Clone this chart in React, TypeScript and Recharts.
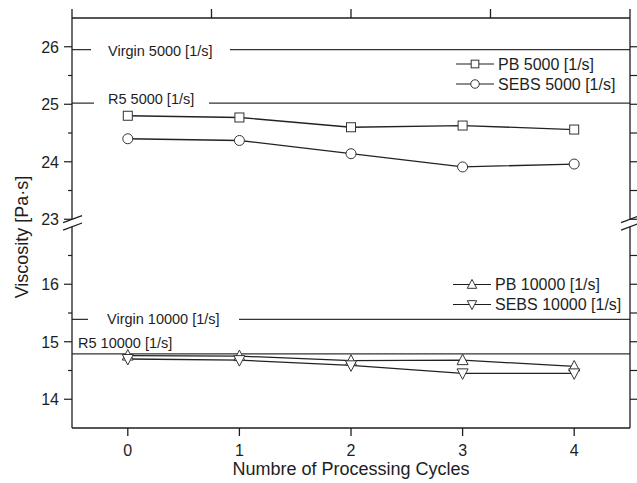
import React from 'react';
import { LineChart, Line, XAxis, YAxis, ReferenceLine, Legend } from 'recharts';

// processing cycles and measured viscosities [Pa·s]
const cycles = [0, 1, 2, 3, 4];
const pb5000 = [24.8, 24.77, 24.6, 24.63, 24.56];
const sebs5000 = [24.4, 24.37, 24.14, 23.91, 23.96];
const pb10000 = [14.76, 14.75, 14.67, 14.68, 14.57];
const sebs10000 = [14.7, 14.68, 14.59, 14.45, 14.45];

// reference levels
const virgin5000 = 25.95;
const r5At5000 = 25.02;
const virgin10000 = 15.39;
const r5At10000 = 14.79;

const yTicksLower = [14, 14.5, 15, 15.5, 16, 16.5];
const yTicksUpper = [23, 23.5, 24, 24.5, 25, 25.5, 26];

// broken y axis: 13.5..17 below the break, 23..26.5 above it
const LOW_END = 17;
const HIGH_START = 23;
const GAP = 0.13;
const SHIFT = HIGH_START - LOW_END - GAP;
const fwd = (v: number) => (v >= 20 ? v - SHIFT : v);
const inv = (t: number) => (t > LOW_END + GAP / 2 ? t + SHIFT : t);
const Y_DOMAIN: [number, number] = [13.5, fwd(26.5)];
const X_DOMAIN: [number, number] = [-0.5, 4.5];

const FONT = '"Liberation Sans", Arial, Helvetica, sans-serif';
const INK = '#1e1e1e';

type Shape = 'square' | 'circle' | 'up' | 'down';

const series: { key: string; name: string; values: number[]; shape: Shape }[] = [
  { key: 'pb5000', name: 'PB 5000 [1/s]', values: pb5000, shape: 'square' },
  { key: 'sebs5000', name: 'SEBS 5000 [1/s]', values: sebs5000, shape: 'circle' },
  { key: 'pb10000', name: 'PB 10000 [1/s]', values: pb10000, shape: 'up' },
  { key: 'sebs10000', name: 'SEBS 10000 [1/s]', values: sebs10000, shape: 'down' },
];

const data = cycles.map((c, i) => {
  const row: Record<string, number> = { cycle: c };
  series.forEach((s) => (row[s.key] = s.values[i]));
  return row;
});

function Marker({ cx, cy, shape, s = 1 }: { cx: number; cy: number; shape: Shape; s?: number }) {
  const common = { fill: '#fff', stroke: '#333', strokeWidth: 1 };
  if (shape === 'square') {
    const h = 4.5 * s;
    return <rect x={cx - h} y={cy - h} width={2 * h} height={2 * h} {...common} />;
  }
  if (shape === 'circle') return <circle cx={cx} cy={cy} r={5 * s} {...common} />;
  const w = 5.5 * s;
  const d = shape === 'up' ? 1 : -1;
  const pts = `${cx},${cy - 6 * s * d} ${cx - w},${cy + 4.5 * s * d} ${cx + w},${cy + 4.5 * s * d}`;
  return <polygon points={pts} {...common} />;
}

function LeftTick({ x, y, payload }: any) {
  const v = Math.round(inv(payload.value) * 100) / 100;
  const major = Number.isInteger(v);
  return (
    <g>
      <line x1={x} x2={x - (major ? 8 : 4)} y1={y} y2={y} stroke={INK} strokeWidth={1.2} />
      {major && (
        <text x={x - 13} y={y} dy="0.36em" textAnchor="end" fontSize={16} fontFamily={FONT} fill={INK}>
          {v}
        </text>
      )}
    </g>
  );
}

function RightTick({ x, y }: any) {
  return <line x1={x} x2={x + 7} y1={y} y2={y} stroke={INK} strokeWidth={1.2} />;
}

function LevelLabel({ viewBox, text, gap, textX, dy }: any) {
  const { x, y } = viewBox;
  return (
    <g>
      {gap && <rect x={x + gap[0]} y={y - 3} width={gap[1] - gap[0]} height={6} fill="#fff" />}
      <text x={x + textX} y={y + dy} fontSize={14.5} fontFamily={FONT} fill={INK}>
        {text}
      </text>
    </g>
  );
}

function XTitle({ viewBox }: any) {
  return (
    <text x={viewBox.x + viewBox.width / 2} y={475} textAnchor="middle" fontSize={18} fontFamily={FONT} fill={INK}>
      Numbre of Processing Cycles
    </text>
  );
}

function YTitle({ viewBox }: any) {
  const cx = 22;
  const cy = viewBox.y + viewBox.height / 2 + 14;
  return (
    <text
      x={cx}
      y={cy}
      transform={`rotate(-90 ${cx} ${cy})`}
      textAnchor="middle"
      dy="0.36em"
      fontSize={18}
      fontFamily={FONT}
      fill={INK}
    >
      Viscosity [Pa·s]
    </text>
  );
}

// legend rows: symbol line from x0 to x1, text after it
const legendSpots: Record<string, { x0: number; x1: number; y: number }> = {
  'PB 5000 [1/s]': { x0: 456, x1: 494, y: 64 },
  'SEBS 5000 [1/s]': { x0: 456, x1: 494, y: 84 },
  'PB 10000 [1/s]': { x0: 453, x1: 491, y: 284.5 },
  'SEBS 10000 [1/s]': { x0: 453, x1: 491, y: 304.5 },
};

function LegendContent({ payload }: any) {
  return (
    <svg width={637} height={483} style={{ position: 'absolute', left: 0, top: 0 }}>
      {(payload || []).map((entry: any) => {
        const spot = legendSpots[entry.value];
        const s = series.find((d) => d.name === entry.value);
        if (!spot || !s) return null;
        const mid = (spot.x0 + spot.x1) / 2;
        return (
          <g key={entry.value}>
            <line x1={spot.x0} x2={spot.x1} y1={spot.y} y2={spot.y} stroke={INK} strokeWidth={1.2} />
            <Marker cx={mid} cy={spot.y} shape={s.shape} s={0.85} />
            <text x={spot.x1 + 4} y={spot.y} dy="0.36em" fontSize={16} fontFamily={FONT} fill={INK}>
              {entry.value}
            </text>
          </g>
        );
      })}
    </svg>
  );
}

const axisStroke = { stroke: INK, strokeWidth: 1.3 };

// axis break strokes and the interrupted vertical frame lines
function frameSegments(xEdge: number) {
  const lo = fwd(LOW_END);
  const hi = fwd(HIGH_START);
  return [
    [{ x: xEdge, y: Y_DOMAIN[0] }, { x: xEdge, y: lo }],
    [{ x: xEdge, y: hi }, { x: xEdge, y: Y_DOMAIN[1] }],
    [{ x: xEdge - 0.08, y: lo - 0.06 }, { x: xEdge + 0.09, y: lo + 0.065 }],
    [{ x: xEdge - 0.08, y: hi - 0.06 }, { x: xEdge + 0.09, y: hi + 0.065 }],
  ];
}

export default function App() {
  const frame = [...frameSegments(X_DOMAIN[0]), ...frameSegments(X_DOMAIN[1])];
  return (
    <div style={{ position: 'absolute', left: 0, top: 0, background: '#fff' }}>
      <LineChart width={637} height={483} data={data} margin={{ top: 0, right: 0, bottom: 0, left: 0 }}>
        <XAxis
          dataKey="cycle"
          type="number"
          domain={X_DOMAIN}
          ticks={cycles}
          allowDataOverflow
          height={55}
          tickSize={8}
          tickMargin={9}
          axisLine={axisStroke}
          tickLine={axisStroke}
          tick={{ fontSize: 16, fontFamily: FONT, fill: INK }}
          label={<XTitle />}
        />
        <XAxis
          xAxisId="top"
          orientation="top"
          type="number"
          domain={X_DOMAIN}
          ticks={cycles}
          allowDataOverflow
          height={18}
          tickSize={9}
          axisLine={axisStroke}
          tickLine={axisStroke}
          tickFormatter={() => ''}
        />
        <YAxis
          type="number"
          domain={Y_DOMAIN}
          allowDataOverflow
          ticks={[...yTicksLower, ...yTicksUpper].map(fwd)}
          interval={0}
          width={72}
          axisLine={false}
          tickLine={false}
          tickSize={0}
          tickMargin={0}
          tick={<LeftTick />}
          label={<YTitle />}
        />
        <YAxis
          yAxisId="right"
          orientation="right"
          type="number"
          domain={Y_DOMAIN}
          allowDataOverflow
          ticks={[...yTicksLower, ...yTicksUpper].map(fwd)}
          interval={0}
          width={7}
          axisLine={false}
          tickLine={false}
          tickSize={0}
          tickMargin={0}
          tick={<RightTick />}
        />

        <ReferenceLine
          y={fwd(virgin5000)}
          stroke="#333"
          strokeWidth={1.3}
          label={<LevelLabel text="Virgin 5000 [1/s]" gap={[19, 158]} textX={36} dy={6.5} />}
        />
        <ReferenceLine
          y={fwd(r5At5000)}
          stroke="#333"
          strokeWidth={1.3}
          label={<LevelLabel text="R5 5000 [1/s]" gap={[22, 137]} textX={36} dy={1} />}
        />
        <ReferenceLine
          y={fwd(virgin10000)}
          stroke="#333"
          strokeWidth={1.3}
          label={<LevelLabel text="Virgin 10000 [1/s]" gap={[16, 167]} textX={35} dy={5} />}
        />
        <ReferenceLine
          y={fwd(r5At10000)}
          stroke="#333"
          strokeWidth={1.3}
          label={<LevelLabel text="R5 10000 [1/s]" textX={6} dy={-5.5} />}
        />

        {series.map((s) => (
          <Line
            key={s.key}
            name={s.name}
            dataKey={(row: any) => fwd(row[s.key])}
            type="linear"
            stroke="#222"
            strokeWidth={1.3}
            isAnimationActive={false}
            dot={(p: any) => <Marker key={`${s.key}-${p.index}`} cx={p.cx} cy={p.cy} shape={s.shape} />}
            activeDot={false}
          />
        ))}

        {frame.map((seg, i) => (
          <ReferenceLine
            key={`frame-${i}`}
            segment={seg}
            ifOverflow="visible"
            stroke={INK}
            strokeWidth={1.3}
            zIndex={600}
          />
        ))}

        <Legend
          layout="horizontal"
          verticalAlign="middle"
          align="center"
          wrapperStyle={{ left: 0, top: 0, width: 637, height: 483, pointerEvents: 'none' }}
          content={<LegendContent />}
        />
      </LineChart>
    </div>
  );
}
